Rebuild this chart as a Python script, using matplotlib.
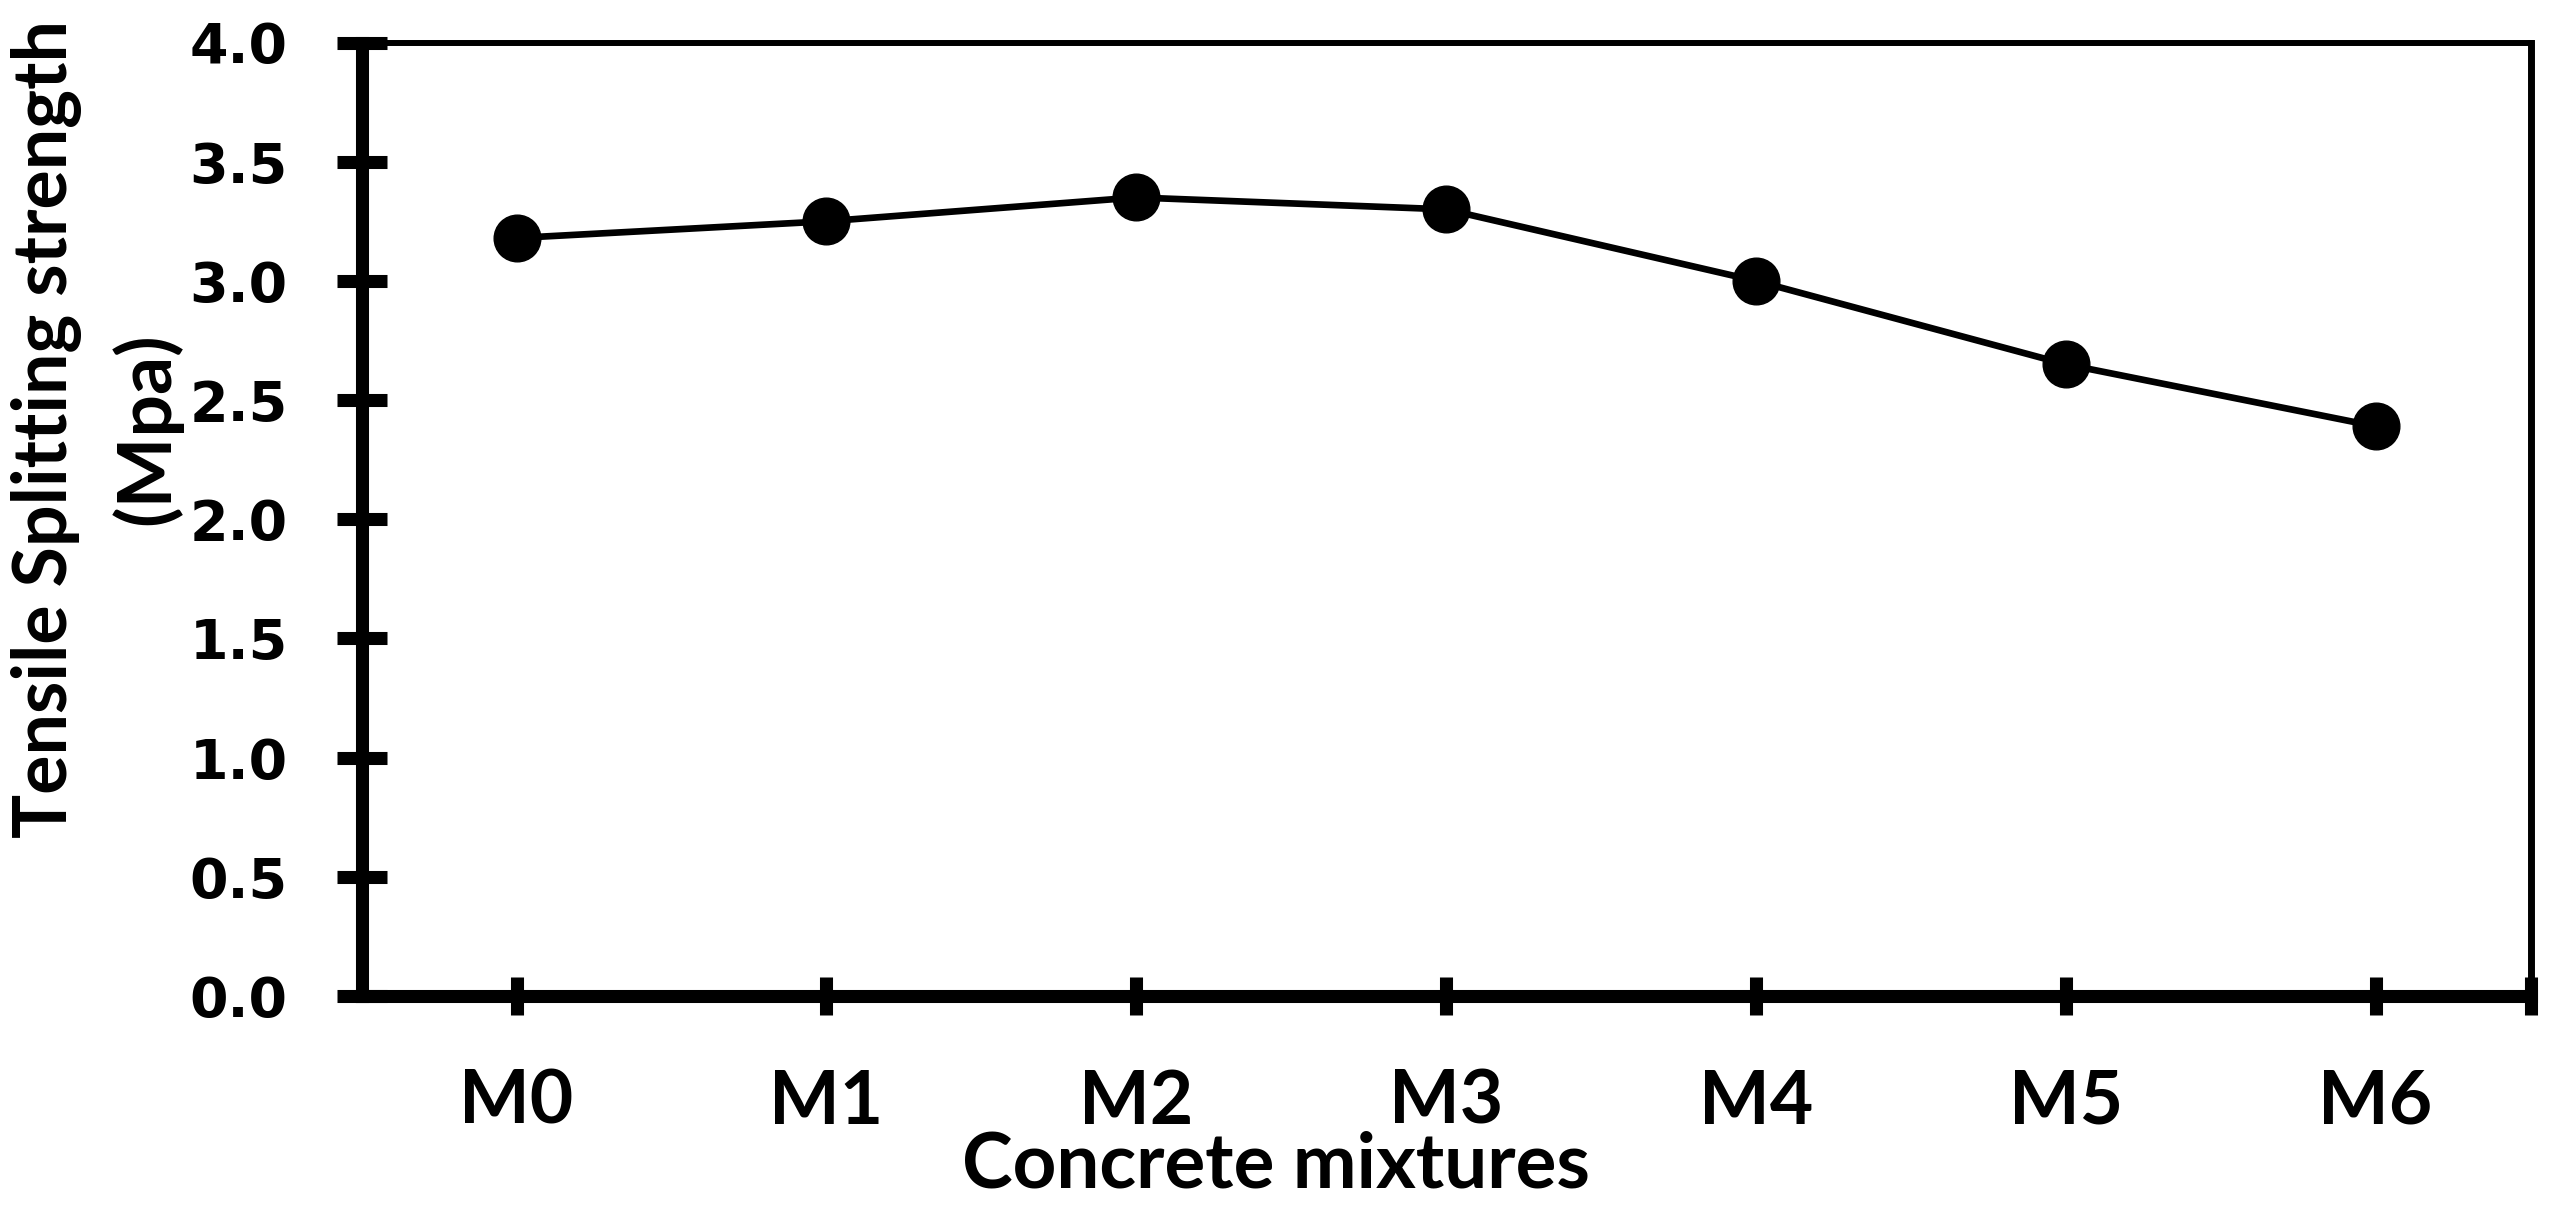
import matplotlib
matplotlib.use("Agg")
import matplotlib.pyplot as plt

categories = ["M0", "M1", "M2", "M3", "M4", "M5", "M6"]
strength = [3.18, 3.25, 3.35, 3.30, 3.00, 2.65, 2.39]
y_ticks = [0.0, 0.5, 1.0, 1.5, 2.0, 2.5, 3.0, 3.5, 4.0]
y_ticklabels = ["0.0", "0.5", "1.0", "1.5", "2.0", "2.5", "3.0", "3.5", "4.0"]

W, H = 2549, 1205
fig = plt.figure(figsize=(W / 100, H / 100), dpi=100)
ax = fig.add_axes([361.7 / W, 1 - 996 / H, (2530.5 - 361.7) / W, (996 - 42.5) / H])

x = list(range(len(categories)))
ax.plot(x, strength, color="black", lw=4.8, marker="o", markersize=33.6,
        markerfacecolor="black", markeredgecolor="black", zorder=3, clip_on=False)

ax.set_xlim(-0.5, 6.5)
ax.set_ylim(0, 4.0)

ax.set_yticks(y_ticks)
ax.set_yticklabels(y_ticklabels, fontfamily="DejaVu Sans", fontweight="bold", fontsize=40)
ax.tick_params(axis="y", direction="inout", length=36.7, width=9.4, pad=35, color="black")

ax.set_xticks(x + [6.5])
ax.set_xticklabels(categories + [""], fontfamily="Lato", fontweight="bold", fontsize=54)
ax.tick_params(axis="x", direction="inout", length=27, width=9.4, pad=38, color="black")

ax.spines["left"].set_linewidth(9.4)
ax.spines["bottom"].set_linewidth(9.4)
ax.spines["top"].set_linewidth(4.3)
ax.spines["right"].set_linewidth(5.0)
for s in ax.spines.values():
    s.set_color("black")

fig.text(47 / W, 1 - 429 / H, "Tensile Splitting strength", rotation=90,
         ha="center", va="center", fontfamily="Lato", fontweight="bold", fontsize=53)
fig.text(146 / W, 1 - 429 / H, "(Mpa)", rotation=90,
         ha="center", va="center", fontfamily="Lato", fontweight="bold", fontsize=54)
fig.text(1276 / W, 1 - 1166 / H, "Concrete mixtures",
         ha="center", va="center", fontfamily="Lato", fontweight="bold", fontsize=55)

fig.savefig("out.png", dpi=100, facecolor="white")
